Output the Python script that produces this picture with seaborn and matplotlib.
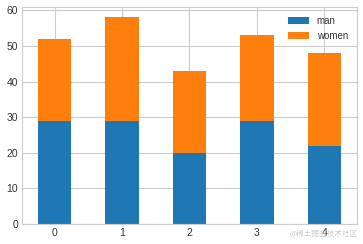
import matplotlib
matplotlib.use("Agg")
import matplotlib.pyplot as plt
import seaborn as sns
import pandas as pd

categories = ["0", "1", "2", "3", "4"]
man = [29, 29, 20, 29, 22]
women = [23, 29, 23, 24, 26]

sns.set_theme(style="whitegrid")
plt.rcParams["font.family"] = ["Liberation Sans", "DejaVu Sans"]
plt.rcParams.update({
    "axes.edgecolor": "#cccccc",
    "grid.color": "#cccccc",
    "grid.linewidth": 0.8,
    "axes.linewidth": 0.8,
    "xtick.color": "#333333",
    "ytick.color": "#333333",
    "xtick.labelsize": 7.5,
    "ytick.labelsize": 7.5,
})

df = pd.DataFrame({"cat": categories, "man": man, "women": women})

fig = plt.figure(figsize=(3.63, 2.44), dpi=100)
ax = fig.add_axes([0.061, 0.082, 0.922, 0.889])

sns.barplot(data=df, x="cat", y="man", color="#1f77b4", saturation=1,
            width=0.5, label="man", ax=ax, linewidth=0)
sns.barplot(data=df, x="cat", y="women", color="#ff7f0e", saturation=1,
            width=0.5, label="women", ax=ax, bottom=df["man"], linewidth=0)

ax.set_xlim(-0.48, 4.48)
ax.set_ylim(0, 60.9)
ax.set_yticks([0, 10, 20, 30, 40, 50, 60])
ax.set_xlabel("")
ax.set_ylabel("")
ax.grid(True, axis="both")
ax.tick_params(axis="both", length=0, pad=3)
for s in ax.spines.values():
    s.set_visible(True)
    s.set_color("#cccccc")
ax.set_axisbelow(True)

ax.legend(loc="upper right", frameon=False, fontsize=7, handlelength=2.2,
          labelcolor="#333333")

fig.text(0.985, 0.025, "@稀土掘金技术社区", ha="right", va="bottom",
         fontsize=5.5, color="#c8c8c8", alpha=0.9,
         family=["Noto Sans CJK SC", "DejaVu Sans"])

fig.savefig("out.png", dpi=100)
